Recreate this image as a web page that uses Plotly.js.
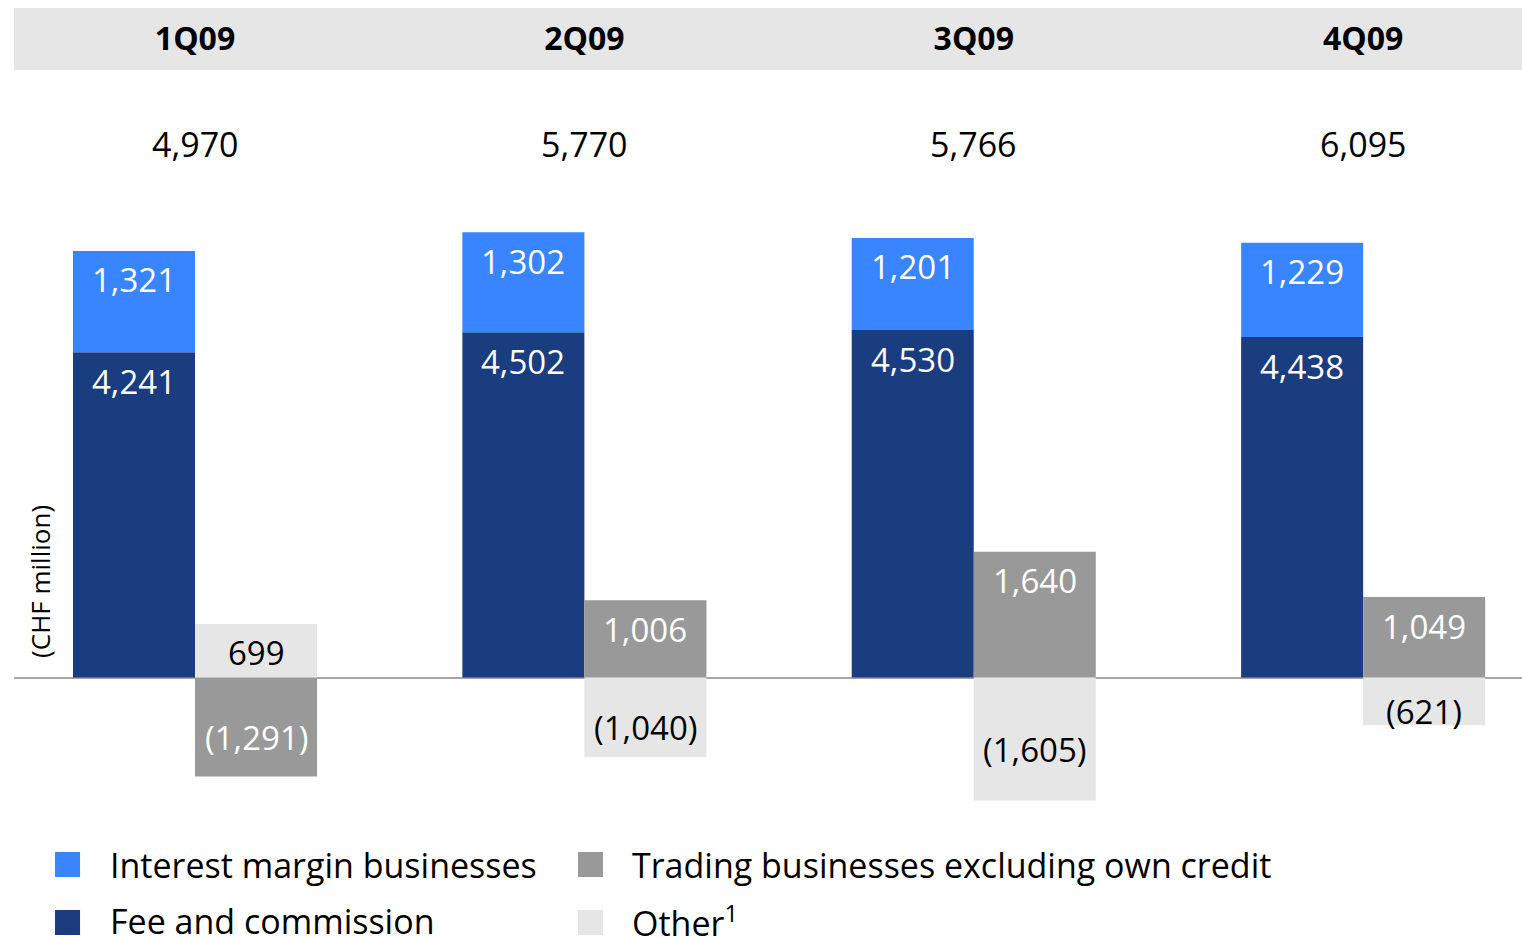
<!DOCTYPE html>
<html>
<head>
<meta charset="utf-8">
<script src="https://cdn.plot.ly/plotly-3.0.1.min.js"></script>
<style>
  html, body { margin: 0; padding: 0; background: #ffffff; }
  #chart { width: 1522px; height: 938px; }
</style>
</head>
<body>
<div id="chart"></div>
<script>
// ---- data ----
const quarters = ["1Q09", "2Q09", "3Q09", "4Q09"];
const feeCommission = [4241, 4502, 4530, 4438];
const interestMargin = [1321, 1302, 1201, 1229];
const tradingExOwnCredit = [-1291, 1006, 1640, 1049];
const otherIncome = [699, -1040, -1605, -621];
const seriesNames = ["Interest margin businesses", "Fee and commission",
                     "Trading businesses excluding own credit", "Other<sup>1</sup>"];
const seriesColors = ["#3984ff", "#1a3d80", "#999999", "#e6e6e6"];
const yAxisLabel = "(CHF million)";

// ---- helpers ----
const FONT = "Open Sans, Noto Sans, sans-serif";
function fmt(v) {
  const s = Math.abs(v).toLocaleString("en-US");
  return v < 0 ? "(" + s + ")" : s;
}
const totals = quarters.map((q, i) =>
  feeCommission[i] + interestMargin[i] + tradingExOwnCredit[i] + otherIncome[i]);

const BW = 0.3134; // bar width in category units
const idx = quarters.map((q, i) => i);

const traces = [
  { type: "bar", name: seriesNames[1], x: quarters, y: feeCommission, base: 0,
    offset: -BW, width: BW, marker: { color: seriesColors[1], line: { width: 0 } },
    showlegend: false, hoverinfo: "skip" },
  { type: "bar", name: seriesNames[0], x: quarters, y: interestMargin, base: feeCommission,
    offset: -BW, width: BW, marker: { color: seriesColors[0], line: { width: 0 } },
    showlegend: false, hoverinfo: "skip" },
  { type: "bar", name: seriesNames[2], x: quarters, y: tradingExOwnCredit, base: 0,
    offset: 0, width: BW, marker: { color: seriesColors[2], line: { width: 0 } },
    showlegend: false, hoverinfo: "skip" },
  { type: "bar", name: seriesNames[3], x: quarters, y: otherIncome, base: 0,
    offset: 0, width: BW, marker: { color: seriesColors[3], line: { width: 0 } },
    showlegend: false, hoverinfo: "skip" }
];

const annotations = [];
function addLabels(values, bases, xOff, color) {
  values.forEach((v, i) => {
    const b = bases ? bases[i] : 0;
    const pos = v >= 0;
    annotations.push({
      x: idx[i] + xOff, xref: "x",
      y: pos ? b + v : b + v / 2, yref: "y",
      yshift: pos ? -29 : -10,
      text: fmt(v), showarrow: false, xanchor: "center", yanchor: "middle",
      font: { family: FONT, size: 33, color: color }
    });
  });
}
addLabels(feeCommission, null, -BW / 2, "#ffffff");
addLabels(interestMargin, feeCommission, -BW / 2, "#ffffff");
addLabels(tradingExOwnCredit, null, BW / 2, "#ffffff");
addLabels(otherIncome, null, BW / 2, "#000000");

// totals
totals.forEach((t, i) => annotations.push({
  x: idx[i], xref: "x", y: 0.9013, yref: "paper", text: fmt(t), showarrow: false,
  xanchor: "center", yanchor: "middle", font: { family: FONT, size: 34, color: "#000" }
}));

// y-axis label
annotations.push({
  x: 0.0172, xref: "paper", y: 0.3187, yref: "paper", text: yAxisLabel,
  textangle: -90, showarrow: false, xanchor: "center", yanchor: "middle",
  font: { family: FONT, size: 26, color: "#000" }
});

// manual legend
const shapes = [{
  type: "rect", xref: "paper", yref: "paper", x0: 0, x1: 1, y0: 1.0, y1: 1.0827,
  fillcolor: "#e6e6e6", line: { width: 0 }, layer: "below"
}];
const legendOrder = [0, 2, 1, 3];
const colX = [[0.0272, 0.0438, 0.0623], [0.3740, 0.3906, 0.4085]];
const rowY = [[-0.0427, -0.0760, -0.0600], [-0.1200, -0.1533, -0.1347]];
legendOrder.forEach((s, k) => {
  const c = colX[k % 2], r = rowY[Math.floor(k / 2)];
  shapes.push({ type: "rect", xref: "paper", yref: "paper", x0: c[0], x1: c[1],
    y0: r[0], y1: r[1], fillcolor: seriesColors[s], line: { width: 0 } });
  annotations.push({ x: c[2], xref: "paper", y: r[2], yref: "paper", text: seriesNames[s],
    showarrow: false, xanchor: "left", yanchor: "middle",
    font: { family: FONT, size: 34, color: "#000" } });
});

const layout = {
  width: 1522, height: 938,
  margin: { l: 14, r: 0, t: 70, b: 118, pad: 0 },
  paper_bgcolor: "#ffffff", plot_bgcolor: "rgba(0,0,0,0)",
  barmode: "overlay", showlegend: false,
  font: { family: FONT, color: "#000" },
  xaxis: {
    type: "category", categoryorder: "array", categoryarray: quarters,
    range: [-0.4649, 3.408], side: "top", showgrid: false, zeroline: false,
    showline: false, ticks: "", ticklabelstandoff: 13,
    tickfont: { family: FONT, size: 32, color: "#000", weight: "bold" },
    fixedrange: true
  },
  yaxis: {
    range: [-1857.9, 7920.5], showticklabels: false, showgrid: false, ticks: "",
    zeroline: true, zerolinecolor: "#a6a6a6", zerolinewidth: 2, showline: false,
    fixedrange: true
  },
  shapes: shapes,
  annotations: annotations
};

Plotly.newPlot("chart", traces, layout, { displayModeBar: false, staticPlot: true });
</script>
</body>
</html>
